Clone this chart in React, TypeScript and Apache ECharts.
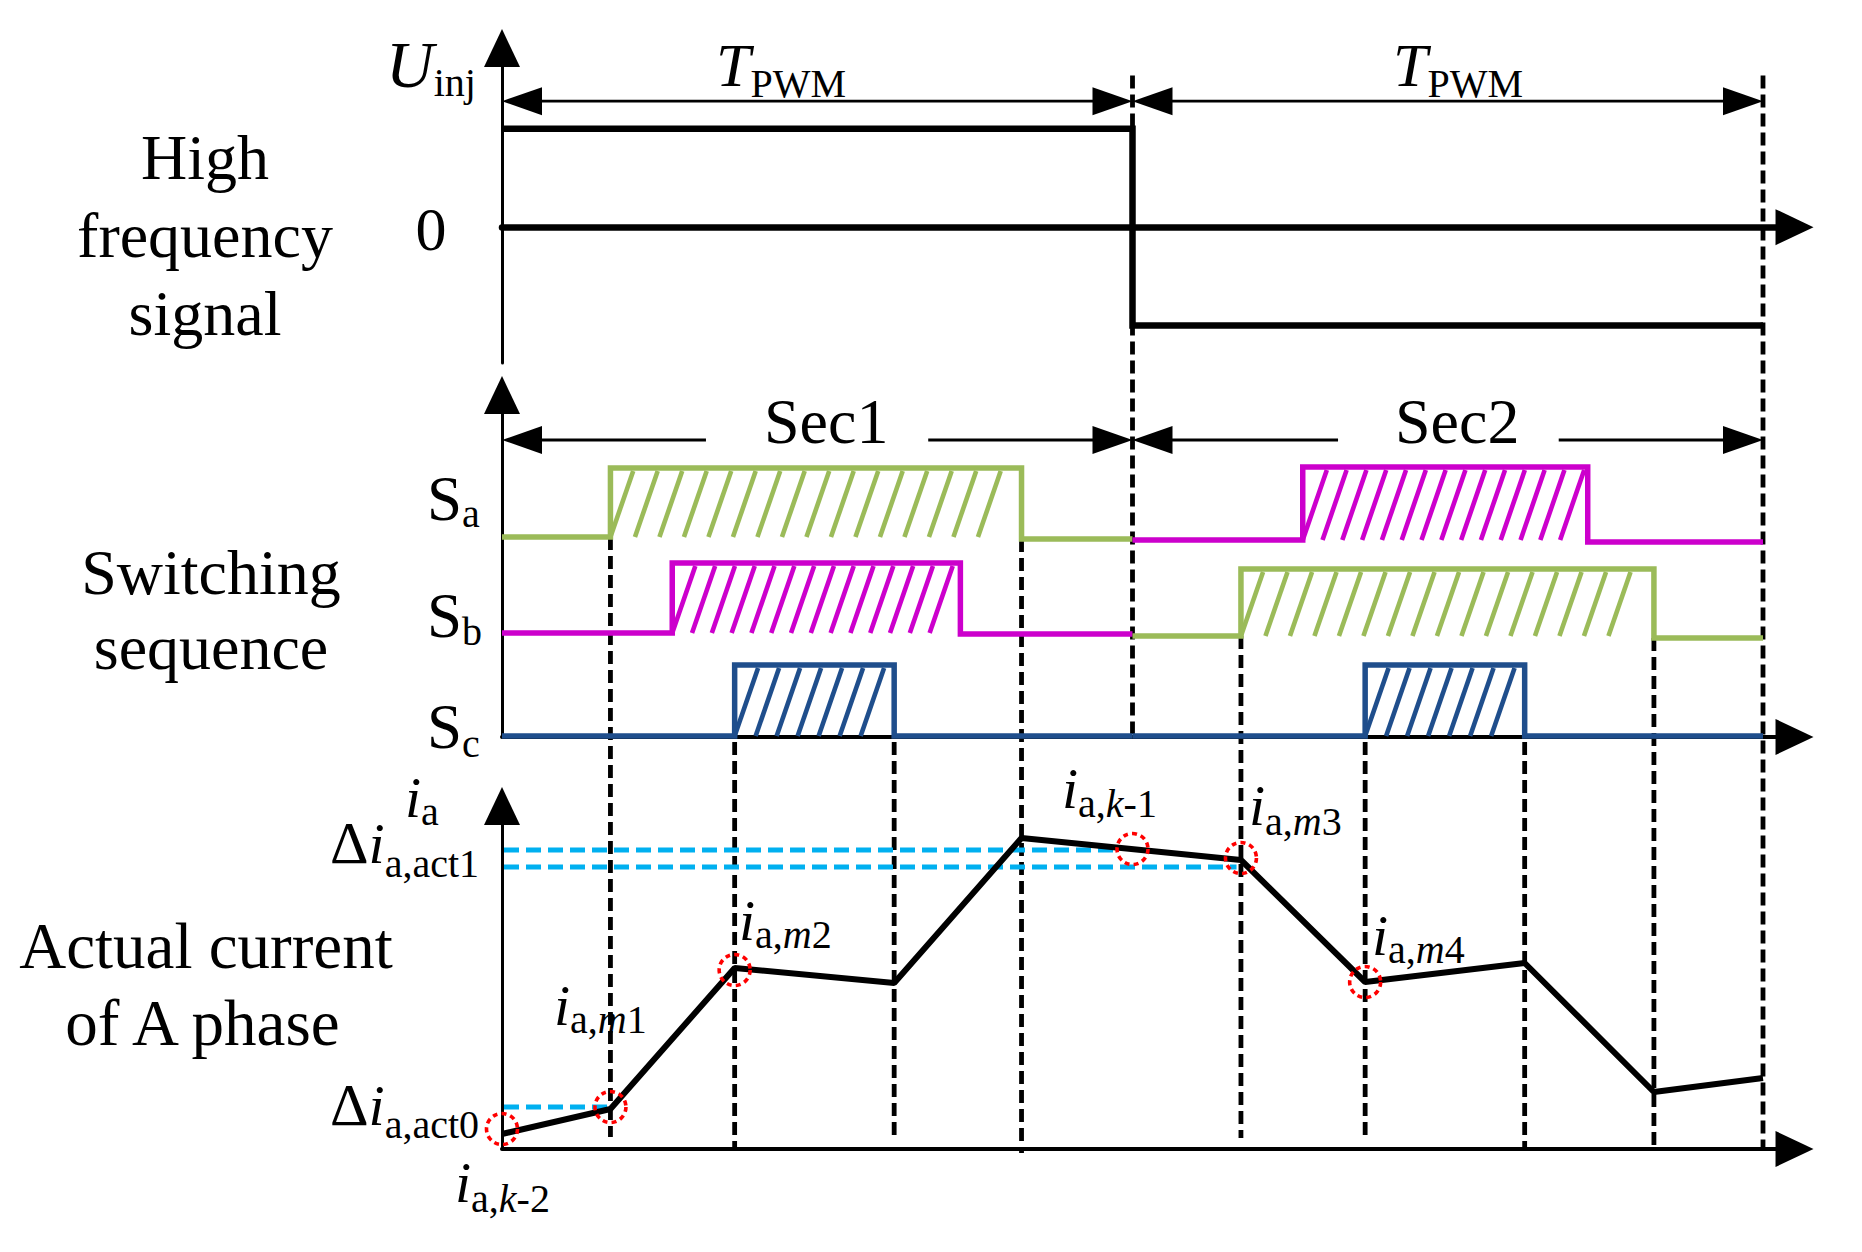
import React, { useEffect, useRef } from "react";
import * as echarts from "echarts";

// ---------------- data ----------------
const T_MAX = 2.05; // time axis (one PWM period = 1)

// high-frequency injected signal (square wave)
const uinjTimes = [0, 1, 1, 2];
const uinjValues = [1, 1, -1, -1];

// switching sequence, rows a, b, c (top to bottom)
const sectionStart = [0, 1];
const sectionEnd = [1, 2];
const sec1Rise = [0.172, 0.27, 0.369];
const sec1Fall = [0.824, 0.727, 0.622];
const sec1Low = [2.0, 1.04, 0.01];
const sec1High = [2.69, 1.74, 0.72];
const sec1LowAfter = [1.98, 1.03, 0.01];
const sec2Rise = [1.27, 1.172, 1.369];
const sec2Fall = [1.722, 1.827, 1.622];
const sec2Low = [1.97, 1.01, 0.01];
const sec2High = [2.7, 1.68, 0.72];
const sec2LowAfter = [1.95, 0.99, 0.01];

// actual current of A phase
const currentTimes = [0, 0.172, 0.369, 0.622, 0.824, 1.172, 1.369, 1.622, 1.827, 2.0];
const currentValues = [0.15, 0.4, 1.81, 1.66, 3.11, 2.89, 1.67, 1.86, 0.57, 0.71];
const sampleTimes = [0, 0.172, 0.369, 1.0, 1.172, 1.369];
const sampleValues = [0.2, 0.42, 1.79, 3.0, 2.91, 1.67];
const actLevels = [2.99, 2.82, 0.42];
const actEnds = [0.98, 1.165, 0.172];

// vertical dashed guides
const guideTimes = [0.172, 0.369, 0.622, 0.824, 1.0, 1.172, 1.369, 1.622, 1.827, 2.0];
const guideTopPanel = [1, 1, 1, 1, 0, 1, 1, 1, 1, 0];
const guideTopValue = [2.0, -0.05, -0.05, 1.98, 1.54, 1.01, -0.05, -0.05, 0.99, 1.54];
const guideBottomPanel = [2, 2, 2, 2, 1, 2, 2, 2, 2, 2];
const guideBottomValue = [0.12, 0, 0.11, -0.04, 0.03, 0.11, 0.12, 0, 0, 0];

// dimension arrows
const tpwmStart = [0, 1];
const tpwmEnd = [1, 2];
const tpwmLevel = 1.28;
const secStart = [0, 1];
const secEnd = [1, 2];
const secLevel = 2.97;
const secGapStart = [0.3235, 1.326];
const secGapEnd = [0.676, 1.676];

// texts
const titleLines1 = ["High", "frequency", "signal"];
const titleLines2 = ["Switching", "sequence"];
const titleLines3 = ["Actual current", "of A phase"];
const secLabels = ["Sec1", "Sec2"];
const rowLabels = ["a", "b", "c"];

// ---------------- styles ----------------
const FONT_FAMILY = '"Liberation Serif", "Times New Roman", serif';
const CENTRAL = 0.3375;
const GREEN = "#9bbb59";
const MAGENTA = "#cc00cc";
const BLUE = "#1f4e8c";
const CYAN = "#00b0f0";
const sec1Colors = [GREEN, MAGENTA, BLUE];
const sec2Colors = [MAGENTA, GREEN, BLUE];
const hatchSpacing: Record<string, number> = { [GREEN]: 24.5, [MAGENTA]: 19.8, [BLUE]: 21 };

type Part = { text: string; size: number; italic?: boolean; dy?: number };

let measureCtx: CanvasRenderingContext2D | null = null;
function measure(text: string, size: number, italic?: boolean) {
  if (!measureCtx) measureCtx = document.createElement("canvas").getContext("2d");
  if (!measureCtx) return text.length * size * 0.5;
  measureCtx.font = `${italic ? "italic " : ""}${size}px ${FONT_FAMILY}`;
  return measureCtx.measureText(text).width;
}

function label(parts: Part[], x: number, baseline: number, align: "left" | "center" = "left") {
  const widths = parts.map((p) => measure(p.text, p.size, p.italic));
  const total = widths.reduce((a, b) => a + b, 0);
  let cx = align === "center" ? x - total / 2 : x;
  const out: any[] = [];
  parts.forEach((p, i) => {
    out.push({
      type: "text",
      x: cx,
      y: baseline + (p.dy || 0) - CENTRAL * p.size,
      silent: true,
      z: 100,
      style: {
        text: p.text,
        fill: "#000",
        fontSize: p.size,
        fontFamily: FONT_FAMILY,
        fontStyle: p.italic ? "italic" : "normal",
        align: "left",
        verticalAlign: "middle",
        textAlign: "left",
        textVerticalAlign: "middle",
      },
    });
    cx += widths[i];
  });
  return out;
}

const SUB = 40;
const IT = 58;
function iLabel(subParts: Part[], x: number, baseline: number, dy: number) {
  return label(
    [{ text: "i", size: IT, italic: true }, ...subParts.map((p) => ({ ...p, dy }))],
    x,
    baseline
  );
}
const sub = (a: string, b: string, c: string): Part[] => [
  { text: a, size: SUB },
  { text: b, size: SUB, italic: true },
  { text: c, size: SUB },
];

function buildGraphics() {
  const g: any[] = [];
  titleLines1.forEach((t, i) => g.push(...label([{ text: t, size: 64 }], 205, 179 + i * 78, "center")));
  titleLines2.forEach((t, i) => g.push(...label([{ text: t, size: 64 }], 211, 594 + i * 75, "center")));
  titleLines3.forEach((t, i) => g.push(...label([{ text: t, size: 65 }], 206, 968 + i * 77, "center")));
  // U_inj
  g.push(...label([{ text: "U", size: 66, italic: true }, { text: "inj", size: SUB, dy: 9 }], 386, 87));
  // zero
  g.push(...label([{ text: "0", size: 62 }], 431, 250, "center"));
  // T_PWM
  [716, 1393].forEach((x) =>
    g.push(...label([{ text: "T", size: 62, italic: true }, { text: "PWM", size: SUB, dy: 11 }], x, 86))
  );
  // Sec labels
  [764, 1395].forEach((x, i) => g.push(...label([{ text: secLabels[i], size: 64 }], x, 443)));
  // S_a, S_b, S_c
  [520, 637, 748].forEach((b, i) =>
    g.push(...label([{ text: "S", size: 63 }, { text: rowLabels[i], size: SUB, dy: 7 + i }], 427, b))
  );
  // current labels
  g.push(...label([{ text: "i", size: IT, italic: true }, { text: "a", size: SUB, dy: 8 }], 405, 817));
  g.push(
    ...label(
      [{ text: "Δ", size: 60 }, { text: "i", size: IT, italic: true }, { text: "a,act1", size: SUB, dy: 14 }],
      330,
      863
    )
  );
  g.push(
    ...label(
      [{ text: "Δ", size: 60 }, { text: "i", size: IT, italic: true }, { text: "a,act0", size: SUB, dy: 13 }],
      330,
      1125
    )
  );
  g.push(...iLabel(sub("a,", "k", "-2"), 455, 1202, 10));
  g.push(...iLabel(sub("a,", "m", "1"), 554, 1025, 8));
  g.push(...iLabel(sub("a,", "m", "2"), 739, 940, 8));
  g.push(...iLabel(sub("a,", "k", "-1"), 1062, 808, 9));
  g.push(...iLabel(sub("a,", "m", "3"), 1249, 825, 10));
  g.push(...iLabel(sub("a,", "m", "4"), 1372, 955, 8));
  return g;
}

function stepPoints(start: number, rise: number, fall: number, end: number, low: number, high: number, lowAfter: number) {
  return [
    [start, low],
    [rise, low],
    [rise, high],
    [fall, high],
    [fall, lowAfter],
    [end, lowAfter],
  ];
}

function buildOption(chartRef: { current: any }) {
  const gridCommon = { left: 502, right: 1862 - 502 - 2.05 * 630.5 };
  const grids = [
    { ...gridCommon, top: 48, height: 315 },
    { ...gridCommon, top: 395, height: 342 },
    { ...gridCommon, top: 806, height: 343 },
  ];
  const yRanges = [
    [-1.38, 1.82],
    [0, 3.42],
    [0, 3.43],
  ];
  const xLineWidth = [6.5, 4, 4];
  const xAxis = grids.map((_, i) => ({
    type: "value",
    gridIndex: i,
    min: 0,
    max: T_MAX,
    axisLine: {
      show: true,
      onZero: true,
      symbol: ["none", "triangle"],
      symbolSize: [36, 38],
      lineStyle: { color: "#000", width: xLineWidth[i] },
    },
    axisTick: { show: false },
    axisLabel: { show: false },
    splitLine: { show: false },
  }));
  const yAxis = grids.map((_, i) => ({
    type: "value",
    gridIndex: i,
    min: yRanges[i][0],
    max: yRanges[i][1],
    axisLine: {
      show: true,
      onZero: true,
      symbol: ["none", "triangle"],
      symbolSize: [36, 38],
      lineStyle: { color: "#000", width: 3 },
    },
    axisTick: { show: false },
    axisLabel: { show: false },
    splitLine: { show: false },
  }));

  const series: any[] = [];

  // vertical dashed guides (span panels)
  series.push({
    type: "custom",
    xAxisIndex: 0,
    yAxisIndex: 0,
    z: 1,
    silent: true,
    data: guideTimes.map((t, i) => [t, i]),
    renderItem: (params: any, api: any) => {
      const i = params.dataIndex;
      const t = guideTimes[i];
      const c = chartRef.current;
      let p0: number[], p1: number[];
      try {
        p0 = c.convertToPixel({ gridIndex: guideTopPanel[i] }, [t, guideTopValue[i]]);
        p1 = c.convertToPixel({ gridIndex: guideBottomPanel[i] }, [t, guideBottomValue[i]]);
      } catch (e) {
        p0 = api.coord([t, guideTopValue[i]]);
        p1 = api.coord([t, 0]);
      }
      return {
        type: "line",
        shape: { x1: p0[0], y1: p0[1], x2: p1[0], y2: p1[1] },
        style: { stroke: "#000", lineWidth: 4.8, lineDash: [13, 6], fill: null },
      };
    },
  });

  // injected signal
  series.push({
    type: "line",
    xAxisIndex: 0,
    yAxisIndex: 0,
    z: 3,
    symbol: "none",
    data: uinjTimes.map((t, i) => [t, uinjValues[i]]),
    lineStyle: { color: "#000", width: 6.5, join: "miter" },
  });

  // dimension arrows
  const arrowRender = (params: any, api: any) => {
    const t0 = api.value(0), t1 = api.value(1), lv = api.value(2), g0 = api.value(3), g1 = api.value(4);
    const a = api.coord([t0, lv]);
    const b = api.coord([t1, lv]);
    const L = 40, H = 28;
    const children: any[] = [];
    const lineStyle = { stroke: "#000", lineWidth: 2.8 };
    if (g0 >= 0) {
      const ga = api.coord([g0, lv]);
      const gb = api.coord([g1, lv]);
      children.push({ type: "line", shape: { x1: a[0] + 10, y1: a[1], x2: ga[0], y2: a[1] }, style: lineStyle });
      children.push({ type: "line", shape: { x1: gb[0], y1: a[1], x2: b[0] - 10, y2: a[1] }, style: lineStyle });
    } else {
      children.push({ type: "line", shape: { x1: a[0] + 10, y1: a[1], x2: b[0] - 10, y2: a[1] }, style: lineStyle });
    }
    children.push({
      type: "polygon",
      shape: { points: [[a[0], a[1]], [a[0] + L, a[1] - H / 2], [a[0] + L, a[1] + H / 2]] },
      style: { fill: "#000" },
    });
    children.push({
      type: "polygon",
      shape: { points: [[b[0], b[1]], [b[0] - L, b[1] - H / 2], [b[0] - L, b[1] + H / 2]] },
      style: { fill: "#000" },
    });
    return { type: "group", children };
  };
  series.push({
    type: "custom",
    xAxisIndex: 0,
    yAxisIndex: 0,
    z: 4,
    silent: true,
    data: tpwmStart.map((s, i) => [s, tpwmEnd[i], tpwmLevel, -1, -1]),
    renderItem: arrowRender,
  });
  series.push({
    type: "custom",
    xAxisIndex: 1,
    yAxisIndex: 1,
    z: 4,
    silent: true,
    data: secStart.map((s, i) => [s, secEnd[i], secLevel, secGapStart[i], secGapEnd[i]]),
    renderItem: arrowRender,
  });

  // switching waveforms
  const sections = [
    { rise: sec1Rise, fall: sec1Fall, low: sec1Low, high: sec1High, after: sec1LowAfter, colors: sec1Colors },
    { rise: sec2Rise, fall: sec2Fall, low: sec2Low, high: sec2High, after: sec2LowAfter, colors: sec2Colors },
  ];
  const hatchData: any[] = [];
  sections.forEach((sec, si) => {
    [0, 1, 2].forEach((r) => {
      series.push({
        type: "line",
        xAxisIndex: 1,
        yAxisIndex: 1,
        z: 5,
        symbol: "none",
        data: stepPoints(sectionStart[si], sec.rise[r], sec.fall[r], sectionEnd[si], sec.low[r], sec.high[r], sec.after[r]),
        lineStyle: { color: sec.colors[r], width: 5.5, join: "miter" },
      });
      hatchData.push({ value: [sec.rise[r], sec.fall[r], sec.low[r], sec.high[r]], color: sec.colors[r] });
    });
  });
  series.push({
    type: "custom",
    xAxisIndex: 1,
    yAxisIndex: 1,
    z: 4,
    silent: true,
    data: hatchData.map((d) => d.value),
    renderItem: (params: any, api: any) => {
      const color = hatchData[params.dataIndex].color;
      const pb = api.coord([api.value(0), api.value(2)]);
      const pt = api.coord([api.value(1), api.value(3)]);
      const h = pb[1] - pt[1];
      const dx = h * 0.33;
      const s = hatchSpacing[color];
      const children: any[] = [];
      for (let x = pb[0]; x + dx <= pt[0] - 1; x += s) {
        children.push({
          type: "line",
          shape: { x1: x, y1: pb[1], x2: x + dx, y2: pt[1] + 3 },
          style: { stroke: color, lineWidth: 4.6 },
        });
      }
      return { type: "group", children };
    },
  });

  // act reference levels (cyan dashed)
  series.push({
    type: "custom",
    xAxisIndex: 2,
    yAxisIndex: 2,
    z: 3,
    silent: true,
    data: actLevels.map((l, i) => [l, actEnds[i]]),
    renderItem: (params: any, api: any) => {
      const a = api.coord([0, api.value(0)]);
      const b = api.coord([api.value(1), api.value(0)]);
      return {
        type: "line",
        shape: { x1: a[0] + 2, y1: a[1], x2: b[0], y2: b[1] },
        style: { stroke: CYAN, lineWidth: 5, lineDash: [15, 7] },
      };
    },
  });

  // current
  series.push({
    type: "line",
    xAxisIndex: 2,
    yAxisIndex: 2,
    z: 6,
    symbol: "none",
    data: currentTimes.map((t, i) => [t, currentValues[i]]),
    lineStyle: { color: "#000", width: 6 },
  });

  // sample circles
  series.push({
    type: "custom",
    xAxisIndex: 2,
    yAxisIndex: 2,
    z: 7,
    silent: true,
    data: sampleTimes.map((t, i) => [t, sampleValues[i]]),
    renderItem: (params: any, api: any) => {
      const p = api.coord([api.value(0), api.value(1)]);
      return {
        type: "circle",
        shape: { cx: p[0], cy: p[1], r: 15.5 },
        style: { stroke: "#ff0000", fill: "none", lineWidth: 3.6, lineDash: [5, 4] },
      };
    },
  });

  return {
    animation: false,
    backgroundColor: "#ffffff",
    grid: grids,
    xAxis,
    yAxis,
    series,
    graphic: buildGraphics(),
  };
}

export default function App() {
  const ref = useRef<HTMLDivElement>(null);
  useEffect(() => {
    if (!ref.current) return;
    const chart = echarts.init(ref.current, null, { renderer: "svg" });
    const chartRef = { current: chart as any };
    chart.setOption(buildOption(chartRef) as any);
    return () => chart.dispose();
  }, []);
  return (
    <div
      ref={ref}
      style={{ position: "absolute", left: 0, top: 0, width: 1862, height: 1252, background: "#fff" }}
    />
  );
}
